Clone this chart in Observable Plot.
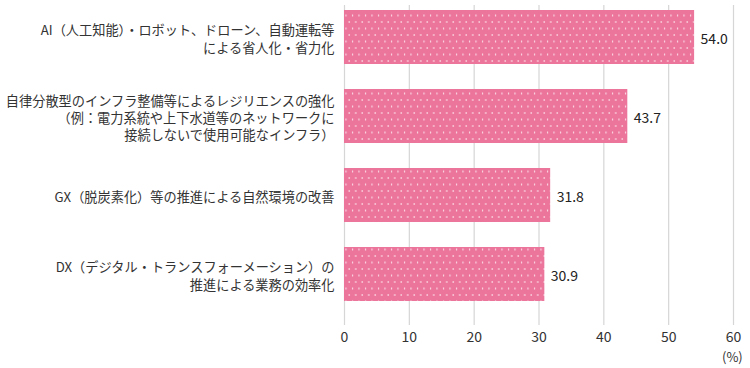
<!DOCTYPE html>
<html>
<head>
<meta charset="utf-8">
<script src="https://cdn.jsdelivr.net/npm/d3@7"></script>
<script src="https://cdn.jsdelivr.net/npm/@observablehq/plot@0.6"></script>
<style>
  html, body { margin: 0; padding: 0; background: #fff; }
  #chart { position: relative; width: 750px; height: 368px; }
  #unit { position: absolute; left: 722px; top: 347px; font: 13px "Noto Sans CJK JP", sans-serif; color: #333; }
</style>
</head>
<body>
<div id="chart"></div>
<script>
const categories = [
  "AI（人工知能）・ロボット、ドローン、自動運転等\nによる省人化・省力化",
  "自律分散型のインフラ整備等によるレジリエンスの強化\n（例：電力系統や上下水道等のネットワークに\n接続しないで使用可能なインフラ）",
  "GX（脱炭素化）等の推進による自然環境の改善",
  "DX（デジタル・トランスフォーメーション）の\n推進による業務の効率化"
];
const values = [54.0, 43.7, 31.8, 30.9];
const xTicks = [0, 10, 20, 30, 40, 50, 60];
const unitLabel = "(%)";

const data = categories.map((c, i) => ({category: c, value: values[i]}));

const chart = Plot.plot({
  width: 750,
  height: 368,
  marginLeft: 344,
  marginRight: 17,
  marginTop: 5,
  marginBottom: 43,
  style: {fontFamily: "'Noto Sans CJK JP', sans-serif", fontSize: "13px", color: "#333"},
  x: {domain: [0, 60], ticks: xTicks, label: null},
  y: {domain: categories, paddingInner: 0.32, paddingOuter: 0.18, align: 0.17, axis: null},
  marks: [
    Plot.gridX(xTicks, {stroke: "#d6d6d6", strokeOpacity: 1, strokeWidth: 1.2}),
    Plot.axisX({ticks: xTicks, tickSize: 0, tickPadding: 7, fontSize: 14, fill: "#333", label: null}),
    Plot.barX(data, {y: "category", x: "value", fill: "url(#dots)"}),
    Plot.text(data, {y: "category", x: "value", text: d => d.value.toFixed(1), textAnchor: "start", dx: 6, dy: 2, fontSize: 14, fill: "#222"}),
    Plot.text(data, {y: "category", frameAnchor: "left", text: "category", textAnchor: "end", dx: -10, dy: 1, lineHeight: 1.3, fontSize: 13.2, fill: "#333"})
  ]
});

// Define dotted pattern for bar fills
const svg = d3.select(chart);
const defs = svg.insert("defs", ":first-child");
const pat = defs.append("pattern")
  .attr("id", "dots")
  .attr("patternUnits", "userSpaceOnUse")
  .attr("width", 6.5)
  .attr("height", 13);
pat.append("rect").attr("width", 6.5).attr("height", 13).attr("fill", "#ec759c");
pat.append("rect").attr("x", 1).attr("y", 1.5).attr("width", 1).attr("height", 2).attr("fill", "#fff").attr("fill-opacity", 0.8);
pat.append("rect").attr("x", 4.25).attr("y", 8).attr("width", 1).attr("height", 2).attr("fill", "#fff").attr("fill-opacity", 0.8);

document.getElementById("chart").appendChild(chart);
const u = document.createElement("div");
u.id = "unit";
u.textContent = unitLabel;
document.getElementById("chart").appendChild(u);
</script>
</body>
</html>
